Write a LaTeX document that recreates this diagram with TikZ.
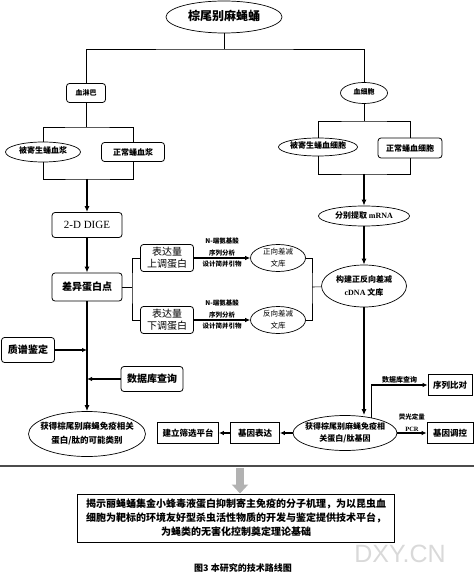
\documentclass[tikz,border=0pt]{standalone}
\usepackage{fontspec}
\setmainfont{Liberation Serif}
\newfontfamily\cjk{Noto Sans CJK SC}
\newfontfamily\wmark{Liberation Sans}
\usetikzlibrary{shapes,arrows.meta}
\newcommand{\fs}[2]{\fontsize{#1}{#2}\selectfont}
% text of an ellipse: takes no room, so the ellipse keeps its own size
\newcommand{\zw}[1]{\makebox[0pt]{\smash{\raisebox{-0.25em}{\begin{tabular}{@{}c@{}}#1\end{tabular}}}}}

\begin{document}
\begin{tikzpicture}[x=1pt,y=-1pt,
  rbox/.style={draw,rounded corners=3pt,line width=0.8pt,inner sep=1pt,align=center,font=\cjk\bfseries\fs{8}{10}},
  sbox/.style={draw,line width=0.8pt,inner sep=1pt,align=center,font=\cjk\bfseries\fs{8.5}{10}},
  ell/.style={draw,ellipse,line width=0.7pt,inner sep=0pt,font=\cjk\bfseries\fs{8}{10}},
  tline/.style={line width=0.6pt},
  arr/.style={line width=1.2pt,-{Latex[length=5pt,width=4.5pt]}},
  bigarr/.style={line width=1.8pt,-{Latex[length=6pt,width=5pt]}},
  lbl/.style={font=\cjk\bfseries\fs{6.5}{12},inner sep=1pt,align=center}]
\useasboundingbox (0,0) rectangle (474,577);
% top
\node[ell,minimum width=116,minimum height=32,font=\cjk\bfseries\fs{12}{14}] (zwb) at (224,17) {\zw{棕尾别麻蝇蛹}};
\node[rbox,minimum width=39,minimum height=19,font=\cjk\bfseries\fs{7}{9}] (xlb) at (86,93) {血淋巴};
\node[ell,minimum width=47,minimum height=21,font=\cjk\bfseries\fs{7}{9}] (xxb) at (364,93) {\zw{血细胞}};
\coordinate (t0) at (224,49);
\draw[tline] (zwb) -- (t0);
\draw[tline] (xlb) |- (t0) -| (xxb);
% plasma
\node[ell,minimum width=75,minimum height=20] (jsxj) at (43,152) {\zw{被寄生蛹血浆}};
\node[rbox,minimum width=63,minimum height=19] (zcxj) at (133,152) {正常蛹血浆};
\coordinate (b1) at (86,127);
\coordinate (m1) at (87,179);
\draw[tline] (xlb) -- (b1);
\draw[tline] (jsxj) |- (b1) -| (zcxj);
\draw[tline] (jsxj) |- (m1) -| (zcxj);
% hemocytes
\node[ell,minimum width=79,minimum height=18] (jsxb) at (318,147) {\zw{被寄生蛹血细胞}};
\node[rbox,minimum width=64,minimum height=20] (zcxb) at (410,148) {正常蛹血细胞};
\coordinate (b2) at (364,121);
\coordinate (m2) at (364,174);
\draw[tline] (xxb) -- (b2);
\draw[tline] (jsxb) |- (b2) -| (zcxb);
\draw[tline] (jsxb) |- (m2) -| (zcxb);
% proteome side
\node[rbox,minimum width=70,minimum height=25,font=\fs{11}{12}] (dige) at (87,225) {2-D DIGE};
\node[rbox,minimum width=70,minimum height=28,font=\cjk\bfseries\fs{10}{12}] (cydb) at (87,287) {差异蛋白点};
\node[rbox,minimum width=53,minimum height=27,font=\cjk\fs{10}{12}] (sdb) at (167,258) {表达量\\上调蛋白};
\node[rbox,minimum width=53,minimum height=27,font=\cjk\fs{10}{12}] (xdb) at (167,320) {表达量\\下调蛋白};
\node[rbox,minimum width=53,minimum height=25,font=\cjk\bfseries\fs{10}{12}] (zpjd) at (28,350) {质谱鉴定};
\node[rbox,minimum width=62,minimum height=25,font=\cjk\bfseries\fs{10}{12}] (sjkl) at (152,379) {数据库查询};
\node[ell,minimum width=117,minimum height=45,font=\cjk\bfseries\fs{8.5}{14}] (knlb) at (87,434) {\zw{获得棕尾别麻蝇免疫相关\\蛋白/肽的可能类别}};
\draw[bigarr] (m1) -- (dige);
\draw[bigarr] (dige) -- (cydb);
\draw[bigarr] (cydb) -- (knlb);
\draw[arr] (zpjd) -- (zpjd -| cydb);
\draw[arr] (sjkl) -- (sjkl -| cydb);
\coordinate (b3) at (132,287);
\draw[tline] (cydb) -- (b3);
\draw[tline] (sdb) -| (b3) |- (xdb);
% libraries
\node[ell,minimum width=55,minimum height=27,font=\cjk\fs{7.5}{12}] (zxwk) at (278,258) {\zw{正向差减\\文库}};
\node[ell,minimum width=55,minimum height=27,font=\cjk\fs{7.5}{12}] (fxwk) at (278,320) {\zw{反向差减\\文库}};
\draw[arr] (sdb) -- node[lbl,above]{N-端氨基酸\\序列分析} node[lbl,below=1pt]{设计简并引物} (zxwk);
\draw[arr] (xdb) -- node[lbl,above]{N-端氨基酸\\序列分析} node[lbl,below=1pt]{设计简并引物} (fxwk);
% cDNA side
\node[ell,minimum width=91,minimum height=20] (mrna) at (364,216) {\zw{分别提取 {\rmfamily mRNA}}};
\node[ell,minimum width=85,minimum height=42,font=\cjk\bfseries\fs{8}{13}] (gjwk) at (364,286) {\zw{构建正反向差减\\{\rmfamily cDNA} 文库}};
\draw[bigarr] (m2) -- (mrna);
\draw[bigarr] (mrna) -- (gjwk);
\coordinate (b4) at (312,287);
\draw[tline] (zxwk) -| (b4) |- (fxwk);
\draw[tline] (b4) -- (gjwk);
% genes
\node[ell,minimum width=104,minimum height=35,font=\cjk\bfseries\fs{8}{12}] (xgjy) at (345,433) {\zw{获得棕尾别麻蝇免疫相\\关蛋白/肽基因}};
\node[sbox,minimum width=49,minimum height=21] (jbbd) at (255,433) {基因表达};
\node[sbox,minimum width=61,minimum height=21] (sxpt) at (188,433) {建立筛选平台};
\node[sbox,minimum width=44,minimum height=21] (xlbd) at (450,385) {序列比对};
\node[sbox,minimum width=46,minimum height=21] (jydk) at (450,433) {基因调控};
\draw[bigarr] (gjwk) -- (gjwk |- xgjy.north);
\draw[arr] (xgjy.30) |- node[lbl,pos=0.75,above,font=\cjk\bfseries\fs{7}{9}]{数据库查询} (xlbd);
\draw[arr] (xgjy) -- node[lbl,above]{荧光定量\\{\rmfamily PCR}} (jydk);
\draw[arr] (xgjy) -- (jbbd);
\draw[arr] (jbbd) -- (sxpt);
% bottom
\draw[line width=1.5pt,black!70] (0,466) -- (474,466); % rule
\node[sbox,minimum width=317,minimum height=48,line width=1pt,font=\cjk\bfseries\fs{10}{14}] (jl) at (236,518)
  {揭示丽蝇蛹集金小蜂毒液蛋白抑制寄主免疫的分子机理，为以昆虫血\\细胞为靶标的环境友好型杀虫活性物质的开发与鉴定提供技术平台，\\为蝇类的无害化控制奠定理论基础};
\coordinate (ga) at (240,468);
\draw[line width=8pt,gray!60,-{Triangle[length=9pt,width=16pt]}] (ga) -- (jl.north -| ga);
\node[font=\cjk\bfseries\fs{9}{11}] (tt) at (243,568) {图3 本研究的技术路线图};
\node[font=\wmark\fs{25}{27},text=gray!30] (wm) at (400,554) {DXY.CN};
\end{tikzpicture}
\end{document}
